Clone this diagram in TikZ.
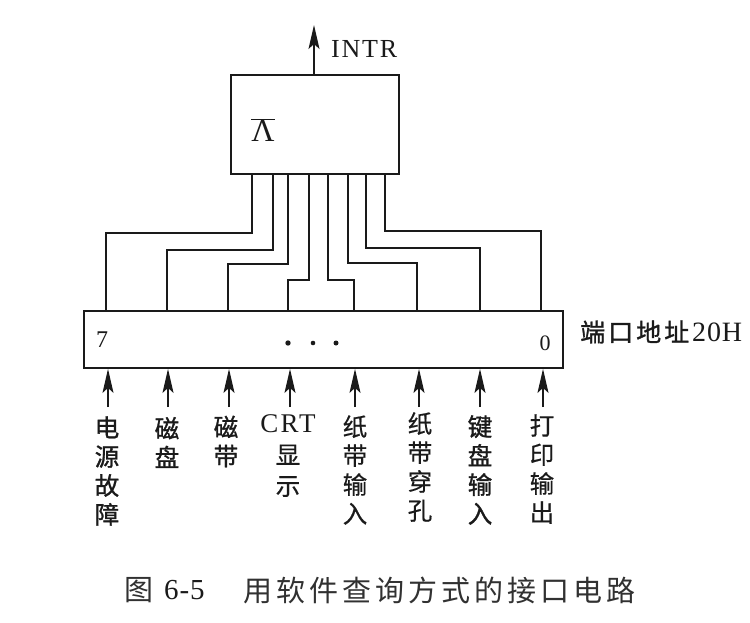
\documentclass[tikz,border=0pt]{standalone}
\usepackage{fontspec}
\setmainfont{Liberation Serif}
\newfontfamily\cjk[FakeBold=0.5]{Noto Sans CJK SC}
\newfontfamily\cjkb[FakeBold=1.2]{Noto Sans CJK SC}
\newfontfamily\cjkc{Noto Sans CJK SC}
\usetikzlibrary{arrows.meta}
\definecolor{ink}{HTML}{1A1A1A}
\tikzset{
  wire/.style={draw=ink,line width=1.4pt,line join=miter},
  blockbox/.style={draw=ink,line width=1.8pt,fill=white,inner sep=0pt},
  inarrow/.style={draw=ink,line width=1.3pt,-{Stealth[length=24pt,width=11pt,inset=5pt]}},
  lab/.style={text=ink,inner sep=0pt,align=center,font=\fontsize{24.5}{29}\selectfont\cjk},
  labb/.style={lab,font=\fontsize{24.5}{29}\selectfont\cjkb},
  caplab/.style={text=ink!90,inner sep=0pt,font=\fontsize{29}{30}\selectfont\cjkc},
  latin/.style={text=ink,inner sep=0pt},
}
\begin{document}
\begin{tikzpicture}[x=1pt,y=-1pt]
\useasboundingbox (0,0) rectangle (750,623);
\fill[white] (0,0) rectangle (750,623);
\foreach \i/\a/\y/\b in {1/252/233/106,2/273/250/167,3/288/264/228,4/309/280/288,5/328/280/354,6/348/263/417,7/366/248/480,8/385/231/541}{
  \coordinate (t\i) at (\a,174);
  \coordinate (k\i) at (\b,\y);
  \coordinate (p\i) at (\b,311);
  \draw[wire] (t\i) |- (k\i) -- (p\i);
}
\node[blockbox,minimum width=168pt,minimum height=99pt] (gate) at (315,124.5) {};
\node[blockbox,minimum width=479pt,minimum height=57pt] (port) at (323.5,339.5) {};
% output
\coordinate (intrtip) at (314,25);
\draw[inarrow] (gate.north -| intrtip) -- (intrtip);
\node[latin,anchor=west,font=\fontsize{26}{28}\selectfont\addfontfeatures{LetterSpace=7}] (intr) at (331,49) {INTR};
\node[latin,font=\fontsize{32}{36}\selectfont] (and) at (263,130) {$\overline{\mbox{Λ}}$};
% port contents
\node[latin,font=\fontsize{24}{24}\selectfont] (seven) at (102,340) {7};
\node[latin,font=\fontsize{22}{24}\selectfont] (zero) at (545,343) {0};
\foreach \n/\x/\r in {a/288/2.7,b/313/2.3,c/336/2.5}{
  \fill[ink] (\x,343) circle (\r pt);
}
\node[labb,anchor=west,font=\fontsize{25}{28}\selectfont\cjkb] (portname) at (580,332) {端\hspace{3pt}口\hspace{3pt}地\hspace{3pt}址};
\node[latin,anchor=west,font=\fontsize{28}{28}\selectfont\addfontfeatures{LetterSpace=3}] (portaddr) at (692,332) {20H};
% inputs
\foreach \i/\x/\s in {1/108/407,2/168/407,3/229/407,4/290/407,5/355/407,6/419/407,7/480/407,8/543/407}{
  \coordinate (s\i) at (\x,\s);
  \draw[inarrow] (s\i) -- (s\i |- port.south);
}
\node[labb] (l1) at (107,471) {电\\源\\故\\障};
\node[labb] (l2) at (167,442.5) {磁\\盘};
\node[labb] (l3) at (226,441.5) {磁\\带};
\node[lab,font=\fontsize{24.5}{31}\selectfont\cjk] (l4) at (288,456) {{\fontsize{27}{31}\selectfont\rmfamily\addfontfeatures{LetterSpace=8}CRT}\\显\\示};
\node[lab] (l5) at (355,470) {纸\\带\\输\\入};
\node[lab] (l6) at (420,467) {纸\\带\\穿\\孔};
\node[labb] (l7) at (480,470) {键\\盘\\输\\入};
\node[lab] (l8) at (542,469) {打\\印\\输\\出};
% caption
\node[caplab,anchor=west] (capnum) at (124,590) {图};
\node[latin,anchor=west,font=\fontsize{29}{30}\selectfont\addfontfeatures{LetterSpace=3}] (capnumb) at (164,590) {6-5};
\node[caplab,anchor=west] (captext) at (243,590) {\addfontfeatures{LetterSpace=14}用软件查询方式的接口电路};
\end{tikzpicture}
\end{document}
